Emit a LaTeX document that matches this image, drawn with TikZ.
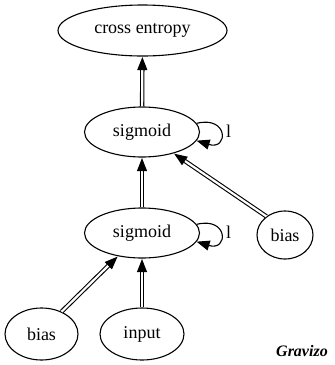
\documentclass[tikz,border=0pt]{standalone}
\usepackage{fontspec}
\setmainfont{Liberation Serif}
\usetikzlibrary{arrows.meta,shapes.geometric}

\tikzset{
  gnode/.style={draw, ellipse, line width=1.1pt, inner sep=0pt,
    font=\fontsize{18}{20}\selectfont},
  dedge/.style={double, double distance=2.2pt, line width=1.1pt,
    -{Triangle[length=13pt,width=10pt]}, shorten >=0.5pt},
  loopedge/.style={line width=1.1pt, -{Triangle[length=13pt,width=10pt]}},
  looplabel/.style={font=\fontsize{18}{20}\selectfont, inner sep=0pt},
  brandtext/.style={font=\fontsize{16}{18}\selectfont\bfseries\itshape, inner sep=0pt}
}

\begin{document}
\begin{tikzpicture}[x=1pt, y=-1pt]
  \useasboundingbox (0,0) rectangle (335,365);

  % nodes
  \node[gnode, minimum width=169pt, minimum height=51pt] (CE) at (142.5,30.5) {cross entropy};
  \node[gnode, minimum width=115pt, minimum height=50pt] (S1) at (142,132) {sigmoid};
  \node[gnode, minimum width=115pt, minimum height=50pt] (S2) at (142,233) {sigmoid};
  \node[gnode, minimum width=56pt, minimum height=48pt] (BR) at (285,235) {bias};
  \node[gnode, minimum width=73pt, minimum height=52pt] (BL) at (41.5,334) {bias};
  \node[gnode, minimum width=84pt, minimum height=52pt] (IN) at (142,334) {input};

  % double edges
  \draw[dedge] (S1) -- (CE);
  \draw[dedge] (S2) -- (S1);
  \draw[dedge] (BR.135) -- (S1.-34);
  \draw[dedge] (BL.48) -- (S2.-136);
  \draw[dedge] (IN) -- (S2);

  % self loops
  \draw[loopedge] (S1.9) .. controls +(32,-8) and +(32,10) .. (S1.-9);
  \node[looplabel, anchor=west] (L1) at (226,131) {l};
  \draw[loopedge] (S2.9) .. controls +(32,-8) and +(32,10) .. (S2.-9);
  \node[looplabel, anchor=west] (L2) at (226,232) {l};

  % watermark
  \node[brandtext] (G) at (302,351) {Gravizo};
\end{tikzpicture}
\end{document}
